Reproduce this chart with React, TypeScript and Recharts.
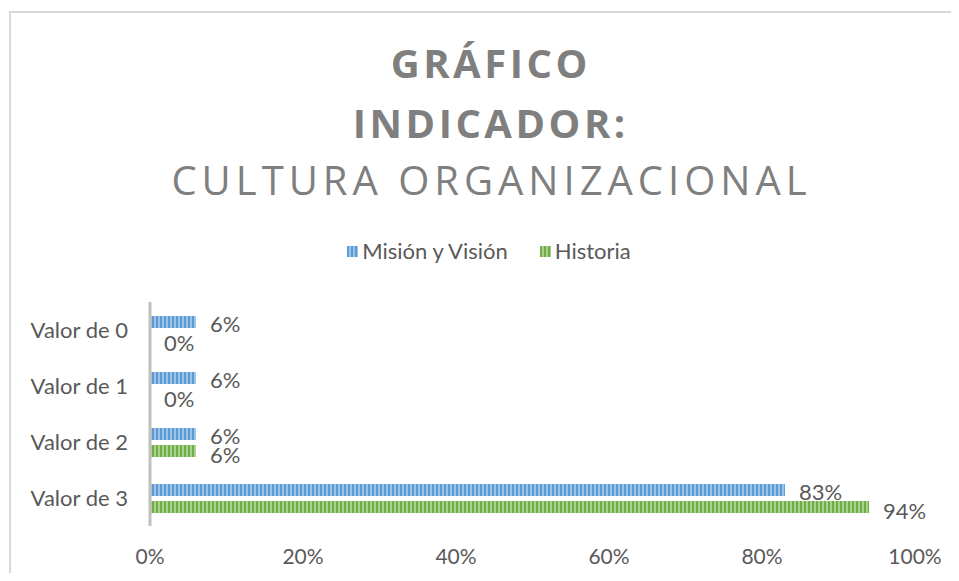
import { BarChart, Bar, XAxis, YAxis, LabelList } from 'recharts'

const categories = ['Valor de 0', 'Valor de 1', 'Valor de 2', 'Valor de 3']
const misionVision = [0.06, 0.06, 0.06, 0.83]
const historia = [0, 0, 0.06, 0.94]
const xTicks = [0, 0.2, 0.4, 0.6, 0.8, 1]

const chartData = categories.map((name, i) => ({
  name,
  mision: misionVision[i],
  historia: historia[i],
}))

const textColor = '#595959'
const bodyFont = 'Lato, "Open Sans", sans-serif'
const pct = (v: number) => `${Math.round(v * 100)}%`

const makeLabel = (dy: number) => (props: any) => {
  const { x, y, width, height, value } = props
  const w = width < 1 ? 0 : width
  return (
    <text
      x={x + w + 14}
      y={y + height / 2 + dy}
      fill={textColor}
      fontSize={22}
      fontFamily={bodyFont}
      dominantBaseline="central"
    >
      {pct(value)}
    </text>
  )
}

const MisionLabel = makeLabel(1)
const HistoriaLabel = makeLabel(3)

const titleStyle = (bold: boolean, spacing: number, top: number) => ({
  position: 'absolute' as const,
  left: 0,
  top,
  width: 978,
  textAlign: 'center' as const,
  fontFamily: '"Open Sans", sans-serif',
  fontWeight: bold ? 700 : 400,
  fontSize: 40,
  letterSpacing: spacing,
  paddingLeft: spacing,
  boxSizing: 'border-box' as const,
  color: '#7f7f7f',
  lineHeight: '40px',
  whiteSpace: 'nowrap' as const,
})

export default function App() {
  return (
    <div style={{ position: 'relative', margin: -8, width: 959, height: 581, background: '#fff', overflow: 'hidden' }}>
      <svg width={0} height={0} style={{ position: 'absolute' }}>
        <defs>
          <pattern id="stripeBlue" width={4} height={4} patternUnits="userSpaceOnUse">
            <rect width={4} height={4} fill="#9dc3e6" />
            <rect width={2} height={4} fill="#5b9bd5" />
          </pattern>
          <pattern id="stripeGreen" width={4} height={4} patternUnits="userSpaceOnUse">
            <rect width={4} height={4} fill="#a9d18e" />
            <rect width={2} height={4} fill="#70ad47" />
          </pattern>
        </defs>
      </svg>
      <div style={{ position: 'absolute', left: 9, top: 11, width: 1000, height: 620, border: '2px solid #d9d9d9' }} />
      <div style={titleStyle(true, 3.5, 43)}>GRÁFICO</div>
      <div style={titleStyle(true, 3.5, 103)}>INDICADOR:</div>
      <div style={titleStyle(false, 5, 160)}>CULTURA ORGANIZACIONAL</div>
      <div
        style={{
          position: 'absolute',
          top: 240,
          left: 0,
          width: 978,
          display: 'flex',
          justifyContent: 'center',
          gap: 32,
          fontFamily: bodyFont,
          fontSize: 22,
          color: textColor,
          lineHeight: '22px',
        }}
      >
        <span style={{ display: 'flex', alignItems: 'center', gap: 4 }}>
          <svg width={11} height={11}><rect width={11} height={11} fill="url(#stripeBlue)" /></svg>
          Misión y Visión
        </span>
        <span style={{ display: 'flex', alignItems: 'center', gap: 4 }}>
          <svg width={11} height={11}><rect width={11} height={11} fill="url(#stripeGreen)" /></svg>
          Historia
        </span>
      </div>
      <div style={{ position: 'absolute', left: 0, top: 0 }}>
        <BarChart
          width={959}
          height={581}
          data={chartData}
          layout="vertical"
          margin={{ top: 302, right: 44, left: 10, bottom: 15 }}
          barSize={12}
          barGap={5}
        >
          <XAxis
            type="number"
            domain={[0, 1]}
            ticks={xTicks}
            tickFormatter={pct}
            axisLine={false}
            tickLine={false}
            tickMargin={17}
            height={40}
            tick={{ fill: textColor, fontSize: 21, fontFamily: bodyFont }}
          />
          <YAxis
            type="category"
            dataKey="name"
            width={140}
            axisLine={{ stroke: '#bfbfbf', strokeWidth: 3 }}
            tickLine={false}
            tickSize={0}
            tickMargin={22}
            tick={{ fill: textColor, fontSize: 22, fontFamily: bodyFont }}
          />
          <Bar dataKey="mision" fill="url(#stripeBlue)" minPointSize={0.1} isAnimationActive={false}>
            <LabelList dataKey="mision" content={MisionLabel} />
          </Bar>
          <Bar dataKey="historia" fill="url(#stripeGreen)" minPointSize={0.1} isAnimationActive={false}>
            <LabelList dataKey="historia" content={HistoriaLabel} />
          </Bar>
        </BarChart>
      </div>
    </div>
  )
}
